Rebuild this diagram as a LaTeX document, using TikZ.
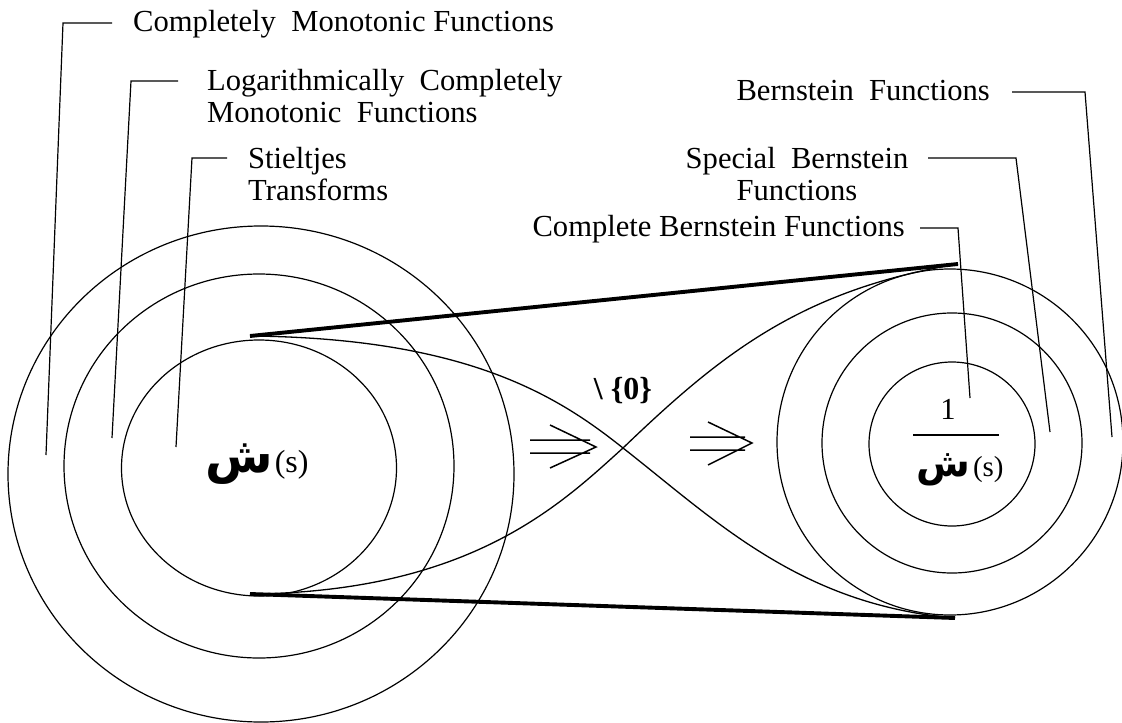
\documentclass[tikz,border=0pt]{standalone}
\usepackage{fontspec}
\setmainfont{Liberation Serif}
\newfontfamily\arabicfont[Script=Arabic]{DejaVu Sans}
\TeXXeTstate=1
\usetikzlibrary{shapes.geometric}
\begin{document}
\begin{tikzpicture}[x=1pt,y=-1pt,
  ring/.style={draw, ellipse, inner sep=0pt, line width=1.2pt},
  lbl/.style={font=\fontsize{30.6}{32.5}\selectfont, inner sep=0pt},
  lead/.style={line width=1.2pt},
  heavy/.style={line width=3.9pt},
  loopline/.style={line width=1.3pt},
  dbl/.style={line width=1.5pt}]
\useasboundingbox[fill=white] (0,0) rectangle (1122,723);

% left rings
\node[ring, minimum width=506pt, minimum height=496pt] (LO) at (261,474) {};
\node[ring, minimum width=390pt, minimum height=384pt] (LM) at (259,466) {};
\node[ring, minimum width=275pt, minimum height=256pt] (LI) at (259,468) {};
% right rings
\node[ring, minimum width=346pt, minimum height=346pt] (RO) at (950,442) {};
\node[ring, minimum width=260pt, minimum height=260pt] (RM) at (952,443) {};
\node[ring, minimum width=166pt, minimum height=164pt] (RI) at (952,444) {};

% labels
\node[lbl, anchor=base west] (cm) at (133,31) {Completely\ \ Monotonic Functions};
\node[lbl, anchor=north west, align=left] (lcm) at (207,69) {Logarithmically\ \ Completely\\Monotonic\ \ Functions};
\node[lbl, anchor=north west, align=left] (st) at (248,147) {Stieltjes\\Transforms};
\node[lbl, anchor=base east] (bf) at (990,100) {Bernstein\ \ Functions};
\node[lbl, anchor=north, align=center] (sbf) at (797,147) {Special\ \ Bernstein\\Functions};
\node[lbl, anchor=base east] (cbf) at (905,236) {Complete Bernstein Functions};

% leader coordinates
\coordinate (cm1) at (112,23);  \coordinate (cm2) at (63,23);   \coordinate (cm3) at (46,455);
\coordinate (lc1) at (178,81);  \coordinate (lc2) at (131,81);  \coordinate (lc3) at (112,438);
\coordinate (st1) at (227,158); \coordinate (st2) at (192,158); \coordinate (st3) at (176,447);
\coordinate (bf1) at (1012,92); \coordinate (bf2) at (1085,92); \coordinate (bf3) at (1112,437);
\coordinate (sb1) at (928,158); \coordinate (sb2) at (1016,158); \coordinate (sb3) at (1050,432);
\coordinate (cb1) at (920,228); \coordinate (cb2) at (958,228); \coordinate (cb3) at (970,398);
\draw[lead] (cm1) -- (cm2) -- (cm3);
\draw[lead] (lc1) -- (lc2) -- (lc3);
\draw[lead] (st1) -- (st2) -- (st3);
\draw[lead] (bf1) -- (bf2) -- (bf3);
\draw[lead] (sb1) -- (sb2) -- (sb3);
\draw[lead] (cb1) -- (cb2) -- (cb3);

% figure-eight
\coordinate (tl) at (250,336);
\coordinate (bl) at (250,594);
\coordinate (tr) at (958,264);
\coordinate (br) at (955,618);
\coordinate (x0) at (623,448);
\draw[heavy] (tl) -- (tr);
\draw[heavy] (bl) -- (br);
\draw[loopline] (tl) .. controls (470,338) and (560,398) .. (x0)
                     .. controls (715,520) and (800,605) .. (br);
\draw[loopline] (bl) .. controls (470,592) and (560,505) .. (x0)
                     .. controls (720,355) and (800,290) .. (tr);

% set minus zero
\node[font=\fontsize{32}{32}\selectfont\bfseries, inner sep=0pt] (minus0) at (623,391) {\textbackslash\ \{0\}};

% double arrows
\draw[dbl] (530,440) -- (590,440) (530,453) -- (590,453) (550,425) -- (596,447) -- (550,468);
\draw[dbl] (690,437) -- (745,437) (690,450) -- (745,450) (708,422) -- (752,443) -- (708,465);

% functions
\node[anchor=base west, inner sep=0pt, font=\fontsize{32}{32}\selectfont] (fL) at (205,472)
  {{\arabicfont\bfseries\fontsize{49}{49}\selectfont\beginR ش\endR}\hspace{2pt}(s)};
\node[lbl] (one) at (948,409) {1};
\coordinate (barL) at (913,435); \coordinate (barR) at (999,435);
\draw[loopline] (barL) -- (barR);
\node[anchor=base west, inner sep=0pt, font=\fontsize{29}{29}\selectfont] (fR) at (916,476)
  {{\arabicfont\bfseries\fontsize{39}{39}\selectfont\beginR ش\endR}\hspace{3pt}(s)};
\end{tikzpicture}
\end{document}
